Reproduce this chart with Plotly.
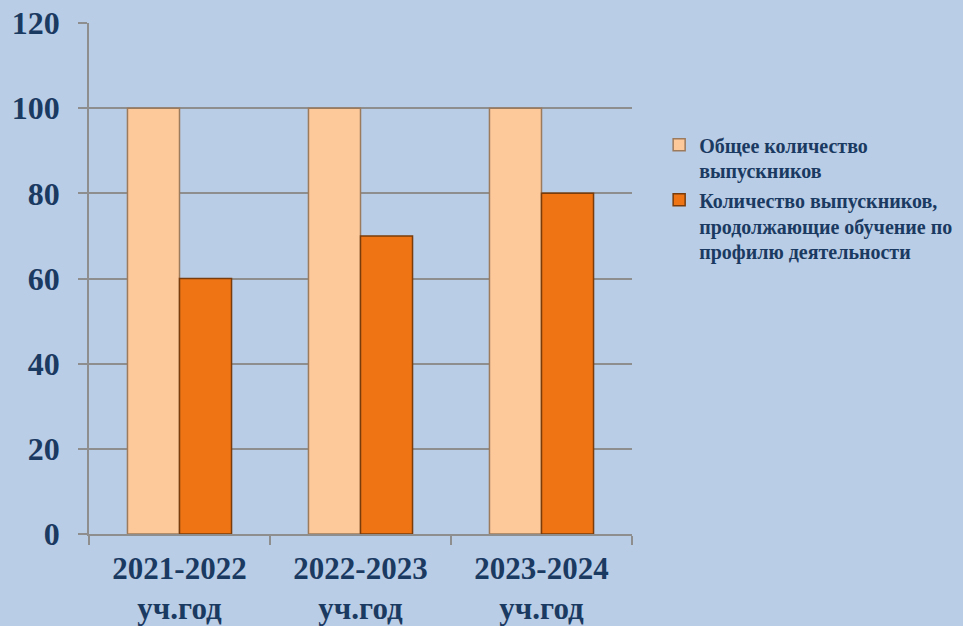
import plotly.graph_objects as go

categories = ["2021-2022<br>уч.год", "2022-2023<br>уч.год", "2023-2024<br>уч.год"]
total_graduates = [100, 100, 100]
profile_graduates = [60, 70, 80]
series_names = ["Общее количество<br>выпускников",
                "Количество выпускников,<br>продолжающие обучение по<br>профилю деятельности"]
y_ticks = [0, 20, 40, 60, 80, 100, 120]

BG = "#B9CDE6"
TXT = "#1B3A62"
GRID = "#8E8E8E"
FONT = "Liberation Serif"

fig = go.Figure()
fig.add_trace(go.Bar(x=categories, y=total_graduates, name=series_names[0],
                     marker=dict(color="#FDC89A", line=dict(color="#9C7A5C", width=1.5))))
fig.add_trace(go.Bar(x=categories, y=profile_graduates, name=series_names[1],
                     marker=dict(color="#EE7414", line=dict(color="#7A3C0A", width=1.5))))

fig.update_layout(
    width=963, height=626,
    paper_bgcolor=BG, plot_bgcolor=BG,
    margin=dict(l=89, r=331, t=23, b=92, autoexpand=False),
    barmode="group", bargap=0.425, bargroupgap=0,
    font=dict(family=FONT, color=TXT),
    legend=dict(x=1.05, y=0.80, xanchor="left", yanchor="top", valign="top",
                font=dict(family=FONT, size=20, color=TXT, weight="bold"),
                bgcolor="rgba(0,0,0,0)", tracegroupgap=0),
    showlegend=True,
)
fig.update_xaxes(
    showline=True, linecolor=GRID, linewidth=1.5,
    ticks="outside", tickson="boundaries", ticklen=9, tickcolor=GRID, tickwidth=1.5,
    tickfont=dict(family=FONT, size=31, color=TXT, weight="bold"),
    ticklabelstandoff=6, showgrid=False, automargin=False,
)
fig.update_yaxes(
    range=[0, 120], tickvals=y_ticks, ticktext=[str(v) for v in y_ticks],
    showline=True, linecolor=GRID, linewidth=1.5,
    ticks="outside", ticklen=9, tickcolor=GRID, tickwidth=1.5,
    showgrid=True, gridcolor=GRID, gridwidth=1.5, zeroline=False,
    tickfont=dict(family=FONT, size=32, color=TXT, weight="bold"),
    ticklabelstandoff=12, automargin=False,
)

fig.write_html("out.html", config={"displayModeBar": False},
               post_script="document.body.style.margin='0';document.body.style.overflow='hidden';")
